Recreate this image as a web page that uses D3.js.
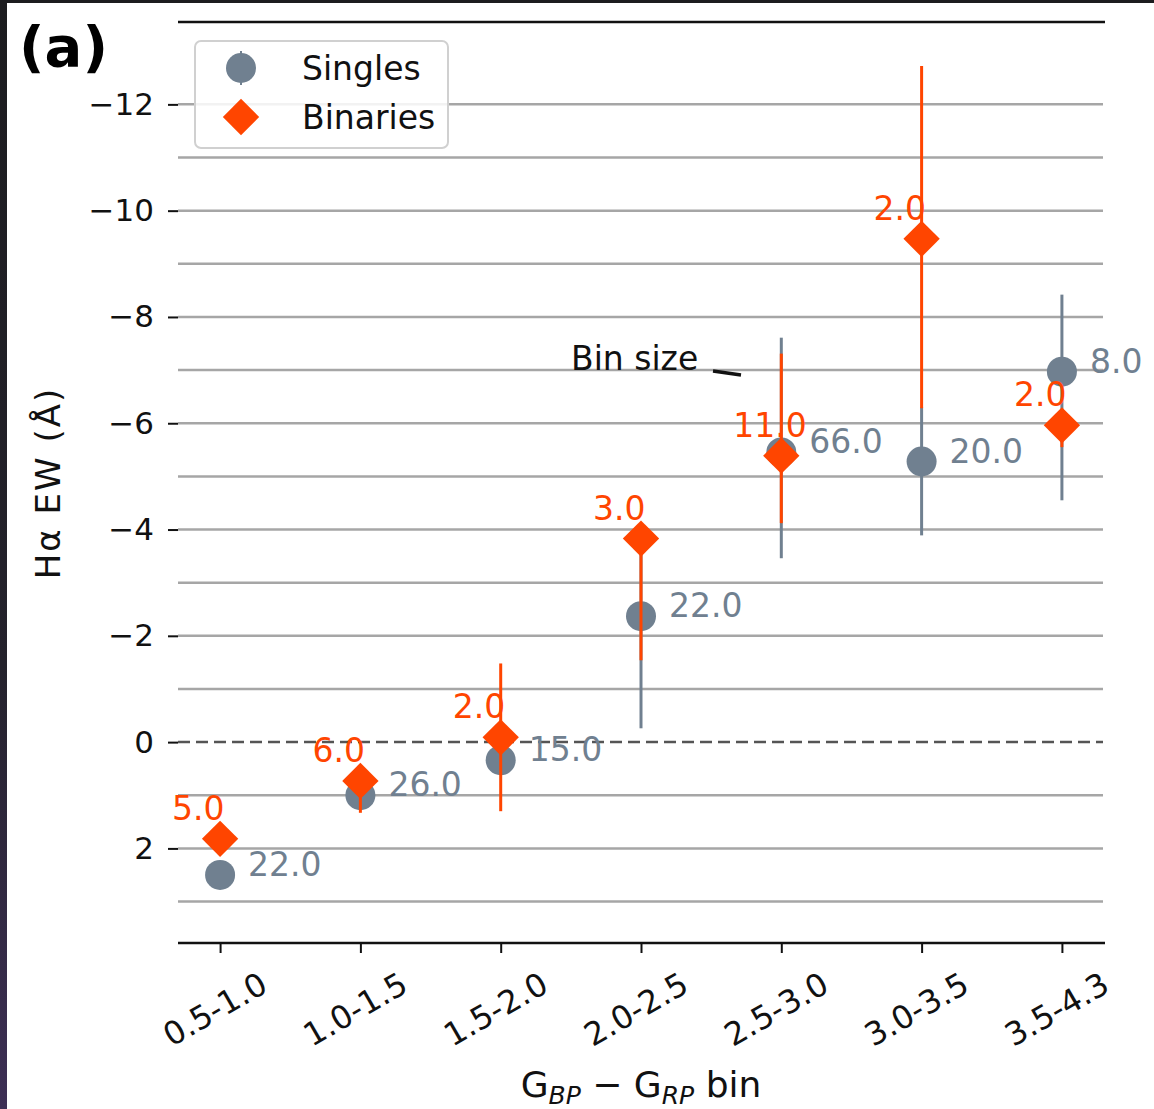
<!DOCTYPE html>
<html>
<head>
<meta charset="utf-8">
<script src="https://cdn.jsdelivr.net/npm/d3@7"></script>
<style>
  body { margin: 0; background: #fff; }
  text { font-family: "DejaVu Sans", sans-serif; }
</style>
</head>
<body>
<script>
// bins on the x axis
var bins = ["0.5-1.0", "1.0-1.5", "1.5-2.0", "2.0-2.5", "2.5-3.0", "3.0-3.5", "3.5-4.3"];

// Singles: value, error bar ends, counts
var singles = [2.5, 1.0, 0.34, -2.37, -5.45, -5.28, -6.97];
var singlesTop = [2.35, 0.9, 0.2, -3.9, -7.61, -6.3, -8.42];
var singlesBottom = [2.65, 1.1, 0.45, -0.26, -3.46, -3.89, -4.55];
var singlesN = ["22.0", "26.0", "15.0", "22.0", "66.0", "20.0", "8.0"];

// Binaries
var binaries = [1.82, 0.73, -0.09, -3.83, -5.39, -9.47, -5.96];
var binariesTop = [1.7, 0.6, -1.48, -3.9, -7.31, -12.72, -6.2];
var binariesBottom = [1.95, 1.33, 1.3, -1.54, -4.12, -6.28, -5.55];
var binariesN = ["5.0", "6.0", "2.0", "3.0", "11.0", "2.0", "2.0"];

var yTicks = [-12, -10, -8, -6, -4, -2, 0, 2];
var gridValues = d3.range(-12, 4);

var w = 1154, h = 1109;
var grey = "#708090", orange = "#ff4500";

var svg = d3.select("body").append("svg")
    .attr("width", w)
    .attr("height", h);

// dark frame around the screenshot
var grad = svg.append("defs").append("linearGradient")
    .attr("id", "edge").attr("x1", 0).attr("y1", 0).attr("x2", 0).attr("y2", 1);
grad.append("stop").attr("offset", "0").attr("stop-color", "#1c1c1f");
grad.append("stop").attr("offset", "0.6").attr("stop-color", "#24222c");
grad.append("stop").attr("offset", "1").attr("stop-color", "#3d2f55");
svg.append("rect").attr("x", 0).attr("y", 0).attr("width", 7).attr("height", h).attr("fill", "url(#edge)");
svg.append("rect").attr("x", 0).attr("y", 0).attr("width", w).attr("height", 3).attr("fill", "#1c1c1f");

// scales
var x = d3.scaleLinear().domain([-0.3, 6.3]).range([178, 1104]);
var y = d3.scaleLinear().domain([-13.55, 3.78]).range([22, 943]);

// grid lines
svg.append("g").selectAll("line")
    .data(gridValues.filter(function (d) { return d !== 0; }))
    .enter().append("line")
    .attr("x1", 178).attr("x2", 1103)
    .attr("y1", function (d) { return y(d); })
    .attr("y2", function (d) { return y(d); })
    .attr("stroke", "#a6a6a6")
    .attr("stroke-width", 2.5);

// zero line
svg.append("line")
    .attr("x1", 178).attr("x2", 1103)
    .attr("y1", y(0)).attr("y2", y(0))
    .attr("stroke", "#555")
    .attr("stroke-width", 2.5)
    .attr("stroke-dasharray", "12,6");

// top spine
svg.append("line")
    .attr("x1", 178).attr("x2", 1105)
    .attr("y1", 22).attr("y2", 22)
    .attr("stroke", "#111").attr("stroke-width", 2.5);

// y axis (no spine)
var yAxis = d3.axisLeft(y).tickValues(yTicks).tickSize(10).tickPadding(14)
    .tickFormat(function (d) { return d < 0 ? "\u2212" + Math.abs(d) : d; });
var gy = svg.append("g").attr("transform", "translate(178,0)").call(yAxis);
gy.select(".domain").remove();
gy.selectAll(".tick line").attr("stroke", "#111").attr("stroke-width", 2);
gy.selectAll(".tick text").attr("font-size", 31).attr("fill", "#111")
    .attr("font-family", "DejaVu Sans");

// x axis
var xAxis = d3.axisBottom(x).tickValues(d3.range(bins.length)).tickSize(10)
    .tickFormat(function (d) { return bins[d]; });
var gx = svg.append("g").attr("transform", "translate(0,943)").call(xAxis);
gx.select(".domain").attr("stroke", "#111").attr("stroke-width", 2.5)
    .attr("transform", "translate(178,0)")
    .attr("d", "M0,0H927");
gx.selectAll(".tick line").attr("stroke", "#111").attr("stroke-width", 2);
gx.selectAll(".tick text")
    .attr("font-size", 32).attr("fill", "#111")
    .attr("font-family", "DejaVu Sans")
    .attr("text-anchor", "middle")
    .attr("y", 0).attr("dy", 0)
    .attr("transform", "translate(0,76) rotate(-30)");

// axis titles
svg.append("text")
    .attr("transform", "translate(60,483) rotate(-90)")
    .attr("text-anchor", "middle")
    .attr("font-size", 34)
    .attr("letter-spacing", 2)
    .attr("fill", "#111")
    .text("H\u03b1 EW (\u00c5)");

var xt = svg.append("text")
    .attr("x", 641).attr("y", 1097)
    .attr("text-anchor", "middle")
    .attr("font-size", 36)
    .attr("fill", "#111");
xt.append("tspan").text("G");
xt.append("tspan").attr("font-style", "italic").attr("font-size", 25).attr("dy", 7).text("BP");
xt.append("tspan").attr("dy", -7).text(" \u2212 G");
xt.append("tspan").attr("font-style", "italic").attr("font-size", 25).attr("dy", 7).text("RP");
xt.append("tspan").attr("dy", -7).text(" bin");

// panel label
svg.append("text")
    .attr("x", 19).attr("y", 66)
    .attr("font-size", 56).attr("font-weight", "bold")
    .attr("fill", "#000")
    .text("(a)");

var diamond = d3.symbol().type(d3.symbolSquare).size(660);

// singles
var gS = svg.append("g");
gS.selectAll("line")
    .data(singles).enter().append("line")
    .attr("x1", function (d, i) { return x(i); })
    .attr("x2", function (d, i) { return x(i); })
    .attr("y1", function (d, i) { return y(singlesTop[i]); })
    .attr("y2", function (d, i) { return y(singlesBottom[i]); })
    .attr("stroke", grey).attr("stroke-width", 3);
gS.selectAll("circle")
    .data(singles).enter().append("circle")
    .attr("cx", function (d, i) { return x(i); })
    .attr("cy", function (d) { return y(d); })
    .attr("r", 15)
    .attr("fill", grey);

// binaries
var gB = svg.append("g");
gB.selectAll("line")
    .data(binaries).enter().append("line")
    .attr("x1", function (d, i) { return x(i); })
    .attr("x2", function (d, i) { return x(i); })
    .attr("y1", function (d, i) { return y(binariesTop[i]); })
    .attr("y2", function (d, i) { return y(binariesBottom[i]); })
    .attr("stroke", orange).attr("stroke-width", 3);
gB.selectAll("path")
    .data(binaries).enter().append("path")
    .attr("d", diamond)
    .attr("transform", function (d, i) { return "translate(" + x(i) + "," + y(d) + ") rotate(45)"; })
    .attr("fill", orange);

// count labels
svg.append("g").selectAll("text")
    .data(singles).enter().append("text")
    .attr("x", function (d, i) { return x(i) + 28; })
    .attr("y", function (d) { return y(d) + 1; })
    .attr("font-size", 33)
    .attr("fill", grey)
    .text(function (d, i) { return singlesN[i]; });

svg.append("g").selectAll("text")
    .data(binaries).enter().append("text")
    .attr("x", function (d, i) { return x(i) - 48; })
    .attr("y", function (d) { return y(d) - 19; })
    .attr("font-size", 33)
    .attr("fill", orange)
    .text(function (d, i) { return binariesN[i]; });

// bin size note
svg.append("text")
    .attr("x", 571).attr("y", 370)
    .attr("font-size", 33)
    .attr("fill", "#111")
    .text("Bin size");
svg.append("line")
    .attr("x1", 713).attr("y1", 371).attr("x2", 741).attr("y2", 375)
    .attr("stroke", "#111").attr("stroke-width", 3.5);

// legend
var leg = svg.append("g");
leg.append("rect")
    .attr("x", 195).attr("y", 41).attr("width", 253).attr("height", 107)
    .attr("rx", 6)
    .attr("fill", "#fff").attr("fill-opacity", 0.85)
    .attr("stroke", "#d0d0d0").attr("stroke-width", 2);
leg.append("line").attr("x1", 241).attr("x2", 241).attr("y1", 51).attr("y2", 85)
    .attr("stroke", grey).attr("stroke-width", 2);
leg.append("circle").attr("cx", 241).attr("cy", 68).attr("r", 15).attr("fill", grey);
leg.append("path").attr("d", diamond)
    .attr("transform", "translate(241,117) rotate(45)").attr("fill", orange);
leg.append("text").attr("x", 302).attr("y", 80).attr("font-size", 33).attr("fill", "#111").text("Singles");
leg.append("text").attr("x", 302).attr("y", 129).attr("font-size", 33).attr("fill", "#111").text("Binaries");
</script>
</body>
</html>
